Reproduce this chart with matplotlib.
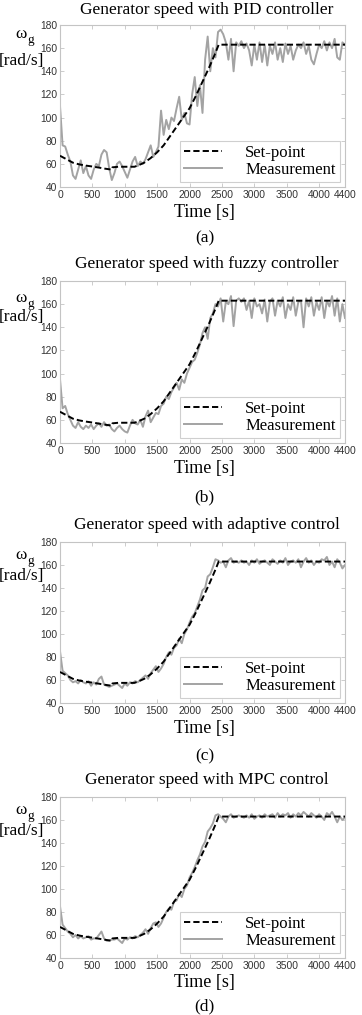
import matplotlib
matplotlib.use("Agg")
import matplotlib.pyplot as plt
import numpy as np

# ---------------- data ----------------
titles = ["Generator speed with PID controller",
          "Generator speed with fuzzy controller",
          "Generator speed with adaptive control",
          "Generator speed with MPC control"]
sublabels = ["(a)", "(b)", "(c)", "(d)"]

# set-point breakpoints
sp_t = [0, 100, 200, 300, 400, 500, 600, 700, 800, 810, 900, 1000, 1100, 1150,
        1200, 1300, 1400, 1500, 1600, 1700, 1800, 1900, 2000, 2100, 2200, 2300,
        2400, 2450, 4400]
sp_v = [67, 64, 61, 59.5, 58.5, 57.7, 56.8, 55.8, 55, 57, 57.5, 57.5, 57.5, 57.5,
        58.5, 61, 65, 70, 76, 84, 92, 100, 108, 119, 131, 143, 156, 163, 163]

# measurement time base: 0..4400 every 40 s
meas_t = list(range(0, 4401, 40))

meas_pid = [110, 76, 75, 68, 62, 50, 47, 55, 63, 52,
            58, 50, 47, 55, 60, 58, 68, 72, 70, 56,
            46, 52, 60, 62, 58, 53, 48, 55, 62, 66,
            58, 62, 60, 64, 70, 76, 66, 70, 75, 106,
            85, 98, 90, 100, 97, 108, 118, 98, 104, 95,
            94, 120, 135, 110, 128, 104, 150, 170, 140, 160,
            152, 174, 176, 172, 165, 150, 168, 140, 165, 162,
            166, 160, 164, 158, 145, 163, 150, 165, 148, 163,
            145, 162, 155, 165, 150, 160, 148, 164, 155, 162,
            150, 158, 163, 160, 165, 155, 162, 150, 146, 155,
            163, 160, 166, 158, 165, 160, 168, 152, 150, 165, 163]

meas_fuzzy = [95, 70, 72, 65, 60, 55, 53, 58, 54, 52,
              55, 53, 56, 52, 55, 57, 54, 58, 55, 56,
              52, 50, 53, 55, 52, 50, 49, 55, 60, 57,
              56, 60, 54, 63, 68, 58, 62, 66, 65, 72,
              74, 80, 78, 84, 88, 92, 86, 95, 92, 100,
              105, 110, 112, 118, 125, 135, 140, 130, 148, 152,
              160, 158, 165, 145, 162, 160, 167, 141, 163, 165,
              162, 165, 155, 163, 148, 165, 158, 160, 152, 164,
              145, 162, 165, 150, 163, 158, 166, 148, 160, 155,
              166, 150, 162, 163, 140, 165, 158, 166, 150, 162,
              155, 166, 148, 163, 158, 167, 150, 165, 145, 160, 148]

meas_adaptive = [85, 68, 66, 64, 60, 58, 59, 57, 60, 58,
                 57, 59, 55, 58, 56, 61, 63, 56, 55, 54,
                 55, 56, 57, 55, 53, 57, 55, 58, 57, 59,
                 58, 60, 62, 64, 61, 66, 69, 72, 67, 70,
                 74, 80, 84, 82, 88, 90, 96, 92, 100, 104,
                 110, 115, 118, 124, 130, 138, 140, 150, 152, 158,
                 165, 164, 162, 163, 158, 164, 166, 162, 163, 162,
                 164, 162, 163, 160, 164, 162, 165, 161, 163, 164,
                 162, 160, 165, 163, 161, 164, 162, 166, 160, 163,
                 164, 162, 165, 158, 163, 166, 162, 164, 160, 163,
                 162, 165, 164, 167, 160, 163, 158, 165, 162, 157, 160]

meas_mpc = [85, 69, 66, 63, 61, 58, 60, 57, 59, 57,
            58, 59, 56, 57, 57, 60, 63, 57, 55, 55,
            56, 56, 57, 55, 53, 57, 56, 58, 57, 59,
            58, 60, 62, 65, 61, 66, 70, 71, 67, 70,
            75, 80, 83, 82, 89, 90, 96, 93, 100, 103,
            110, 114, 119, 125, 130, 137, 141, 150, 153, 157,
            164, 165, 163, 161, 158, 163, 165, 162, 163, 164,
            163, 162, 164, 162, 165, 161, 163, 164, 162, 165,
            163, 164, 165, 162, 166, 163, 165, 164, 166, 162,
            165, 163, 166, 164, 167, 165, 163, 166, 164, 162,
            165, 163, 160, 166, 164, 167, 163, 158, 163, 160, 162]

measurements = [meas_pid, meas_fuzzy, meas_adaptive, meas_mpc]

xticks = [0, 500, 1000, 1500, 2000, 2500, 3000, 3500, 4000, 4400]
yticks = [40, 60, 80, 100, 120, 140, 160, 180]

# ---------------- layout ----------------
W, H = 362, 1015
fig = plt.figure(figsize=(W / 100, H / 100), dpi=100)

def fx(px):
    return px / W

def fy(px):
    return 1 - px / H

ax_left, ax_right = 60, 345
ax_tops = [25, 281, 542, 797]
ax_bots = [187, 443, 703, 958]
title_y = [10, 264, 525, 780]
xlabel_y = [212, 468, 728, 983]
sub_y = [238, 497, 756, 1006]
omega_off = [9, 17, 13, 13]
rad_off = [36, 36, 34, 34]

serif = "Liberation Serif"
sans = "Liberation Sans"
frame_col = "#c4c4c4"
meas_col = "#a3a3a3"

for i in range(4):
    top, bot = ax_tops[i], ax_bots[i]
    ax = fig.add_axes([fx(ax_left), fy(bot), fx(ax_right - ax_left), (bot - top) / H])
    ax.plot(meas_t, measurements[i], color=meas_col, lw=1.4, label="Measurement", zorder=2)
    ax.plot(sp_t, sp_v, color="black", lw=1.4, ls=(0, (3.2, 1.6)), label="Set-point", zorder=3)
    ax.set_xlim(0, 4400)
    ax.set_ylim(40, 180)
    ax.set_xticks(xticks)
    ax.set_yticks(yticks)
    ax.tick_params(direction="in", length=3, width=0.6, color=frame_col,
                   top=True, right=True, labelsize=7.4, pad=2, labelcolor="#333333")
    for lab in ax.get_xticklabels() + ax.get_yticklabels():
        lab.set_fontfamily(sans)
    for sp in ax.spines.values():
        sp.set_color(frame_col)
        sp.set_linewidth(0.8)

    handles, labels = ax.get_legend_handles_labels()
    leg = ax.legend([handles[1], handles[0]], [labels[1], labels[0]],
                    loc="lower right", prop={"family": serif, "size": 12},
                    frameon=True, fancybox=False, handlelength=2.3,
                    handletextpad=1.4, borderaxespad=0.3, borderpad=0.25,
                    labelspacing=0.05)
    leg.get_frame().set_edgecolor(frame_col)
    leg.get_frame().set_linewidth(0.8)

    cx = (ax_left + ax_right) / 2
    fig.text(fx(cx + 4), fy(title_y[i]), titles[i], family=serif, fontsize=12.5,
             ha="center", va="center")
    fig.text(fx(cx + 2), fy(xlabel_y[i]), "Time [s]", family=serif, fontsize=13,
             ha="center", va="center")
    fig.text(fx(cx + 2), fy(sub_y[i]), sublabels[i], family=serif, fontsize=12.5,
             ha="center", va="center")
    fig.text(fx(21), fy(top + omega_off[i]), "ω", family=serif, fontsize=12.5,
             ha="center", va="center")
    fig.text(fx(30.5), fy(top + omega_off[i] + 6), "g", family=serif, fontsize=9.5,
             ha="center", va="center")
    fig.text(fx(21), fy(top + rad_off[i]), "[rad/s]", family=serif, fontsize=12.5,
             ha="center", va="center")

fig.savefig("out.png", dpi=100)
